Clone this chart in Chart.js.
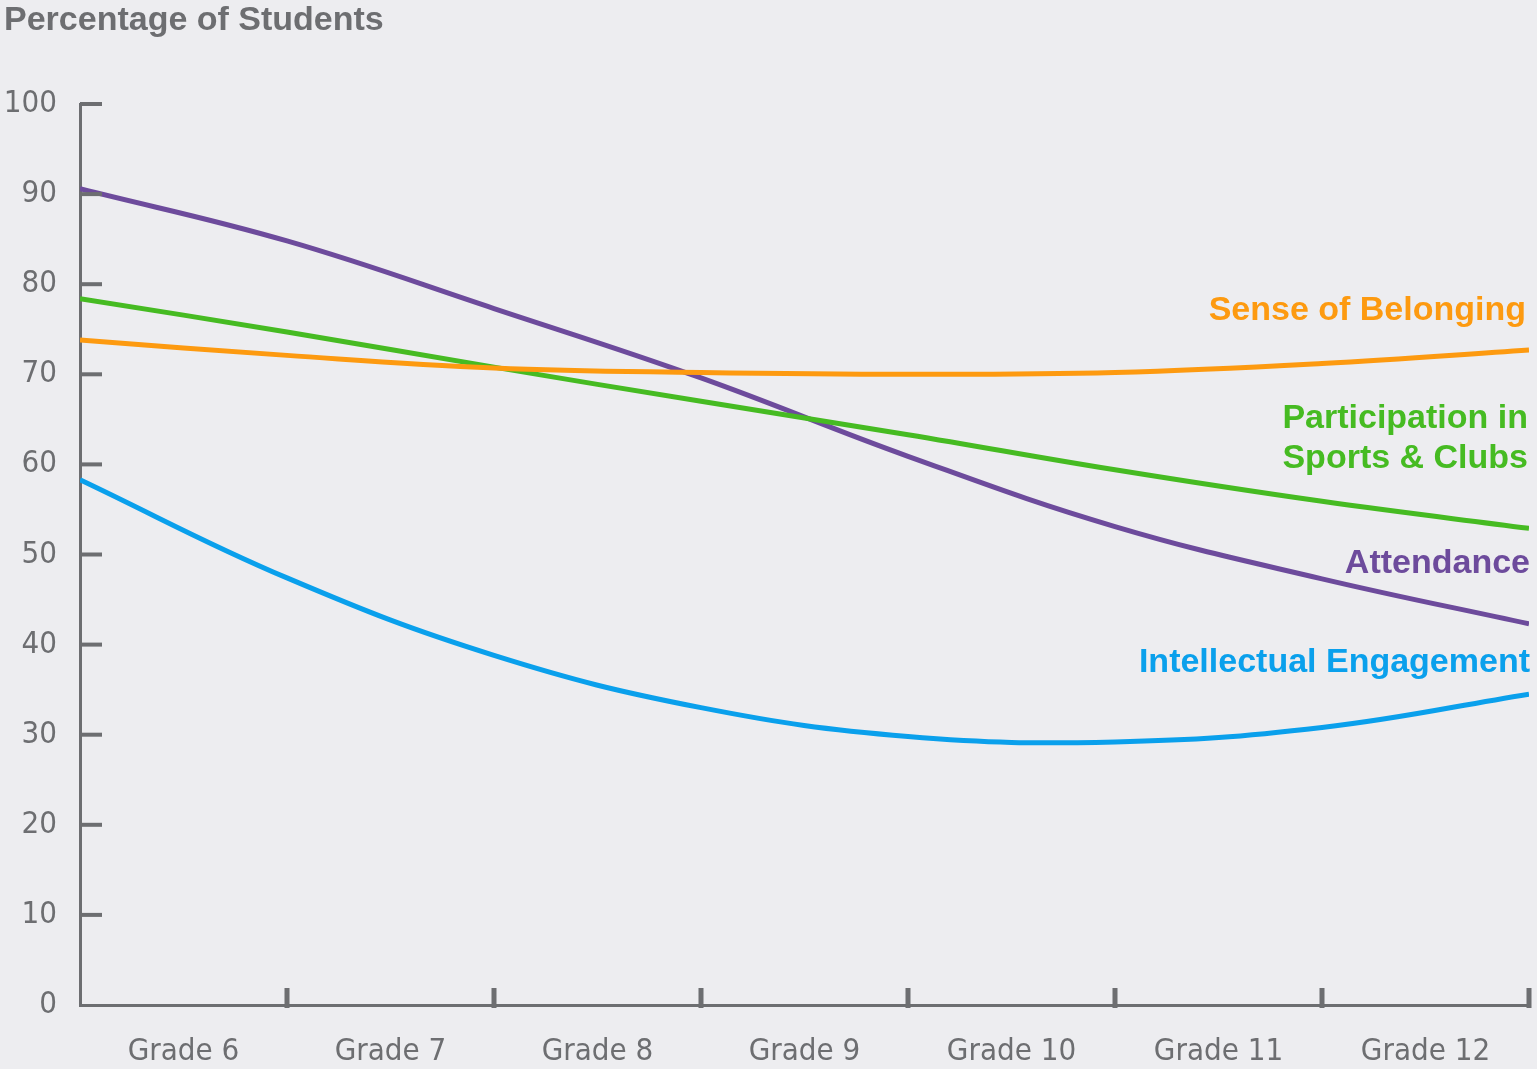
<!DOCTYPE html>
<html>
<head>
<meta charset="utf-8">
<script src="https://cdn.jsdelivr.net/npm/chart.js@4/dist/chart.umd.min.js"></script>
<style>
  html, body { margin: 0; padding: 0; background: #ededf0; }
</style>
</head>
<body>
<canvas id="chart" width="1537" height="1069"></canvas>
<script>
// Grade bands along the x axis; series values are taken at the band boundaries 0..7
const gradeLabels = ['Grade 6', 'Grade 7', 'Grade 8', 'Grade 9', 'Grade 10', 'Grade 11', 'Grade 12'];
const boundaries = [0, 1, 2, 3, 4, 5, 6, 7];

const senseOfBelonging = [73.8, 72.1, 70.7, 70.2, 70.0, 70.2, 71.2, 72.7];
const participation    = [78.4, 74.7, 70.8, 67.0, 63.3, 59.4, 55.9, 52.9];
const attendance       = [90.6, 84.8, 77.3, 69.6, 60.9, 53.1, 47.3, 42.3];
const intellectual     = [58.3, 47.4, 38.8, 33.0, 29.8, 29.2, 30.8, 34.5];

const yTickValues = [0, 10, 20, 30, 40, 50, 60, 70, 80, 90, 100];
const yAxisTitle = 'Percentage of Students';

const AXIS_GREY = '#6d6e71';
const FONT_NARROW = '"Liberation Sans Narrow", "DejaVu Sans Condensed", sans-serif';
const FONT_BOLD = '"Liberation Sans", Arial, sans-serif';

const toPoints = vals => boundaries.map((x, i) => ({ x, y: vals[i] }));

const series = [
  { label: 'Sense of Belonging', values: senseOfBelonging, color: '#fd9a10' },
  { label: 'Participation in Sports & Clubs', values: participation, color: '#46bb22' },
  { label: 'Attendance', values: attendance, color: '#6d4b9c' },
  { label: 'Intellectual Engagement', values: intellectual, color: '#0aa0ec' }
];

// Tick marks: y ticks point into the plot, x ticks mark grade boundaries
const tickMarks = {
  id: 'tickMarks',
  afterDraw(chart) {
    const { ctx, scales: { x, y } } = chart;
    ctx.save();
    ctx.fillStyle = AXIS_GREY;
    yTickValues.forEach(v => {
      if (v === 0) return;
      const py = y.getPixelForValue(v);
      ctx.fillRect(x.left, py - 2, 22, 4);
    });
    boundaries.forEach(b => {
      if (b === 0) return;
      const px = x.getPixelForValue(b);
      ctx.fillRect(px - 2.5, y.bottom - 17, 5, 20);
    });
    ctx.restore();
  }
};

// Axis title in the top-left corner and series names at the right end of each line
const annotations = {
  id: 'annotations',
  afterDraw(chart, args, opts) {
    const { ctx, scales: { y } } = chart;
    ctx.save();
    ctx.font = 'bold 34px ' + FONT_BOLD;
    ctx.textBaseline = 'alphabetic';
    ctx.textAlign = 'left';
    ctx.fillStyle = AXIS_GREY;
    ctx.fillText(yAxisTitle, 4, 30);
    ctx.textAlign = 'right';
    opts.items.forEach(it => {
      ctx.fillStyle = it.color;
      ctx.fillText(it.text, it.x, y.getPixelForValue(it.at));
    });
    ctx.restore();
  }
};

new Chart(document.getElementById('chart'), {
  type: 'line',
  data: {
    datasets: series.map(s => ({
      label: s.label,
      data: toPoints(s.values),
      borderColor: s.color,
      borderWidth: 5,
      pointRadius: 0,
      tension: 0.4,
      fill: false
    }))
  },
  options: {
    responsive: false,
    animation: false,
    layout: { padding: { top: 104, right: 8, left: 0, bottom: 0 } },
    plugins: {
      legend: { display: false },
      tooltip: { enabled: false },
      annotations: {
        items: [
          { text: 'Sense of Belonging', color: '#fd9a10', x: 1526, at: 76.0 },
          { text: 'Participation in', color: '#46bb22', x: 1528, at: 64.0 },
          { text: 'Sports & Clubs', color: '#46bb22', x: 1528, at: 59.6 },
          { text: 'Attendance', color: '#6d4b9c', x: 1530, at: 47.9 },
          { text: 'Intellectual Engagement', color: '#0aa0ec', x: 1530, at: 37.0 }
        ]
      }
    },
    scales: {
      x: {
        type: 'linear',
        min: 0,
        max: 7,
        afterBuildTicks: scale => {
          scale.ticks = gradeLabels.map((_, i) => ({ value: i + 0.5 }));
        },
        afterFit: scale => { scale.height = 64; },
        grid: { display: false, drawTicks: false },
        border: { display: true, color: AXIS_GREY, width: 3 },
        ticks: {
          autoSkip: false,
          maxRotation: 0,
          padding: 28,
          color: AXIS_GREY,
          font: { family: FONT_NARROW, size: 31 },
          callback: (v, i) => gradeLabels[i]
        }
      },
      y: {
        min: 0,
        max: 100,
        afterBuildTicks: scale => {
          scale.ticks = yTickValues.map(v => ({ value: v }));
        },
        afterFit: scale => { scale.width = 80; },
        grid: { display: false, drawTicks: false },
        border: { display: true, color: AXIS_GREY, width: 3 },
        ticks: {
          padding: 23,
          color: AXIS_GREY,
          font: { family: FONT_NARROW, size: 31 }
        }
      }
    }
  },
  plugins: [tickMarks, annotations]
});
</script>
</body>
</html>
